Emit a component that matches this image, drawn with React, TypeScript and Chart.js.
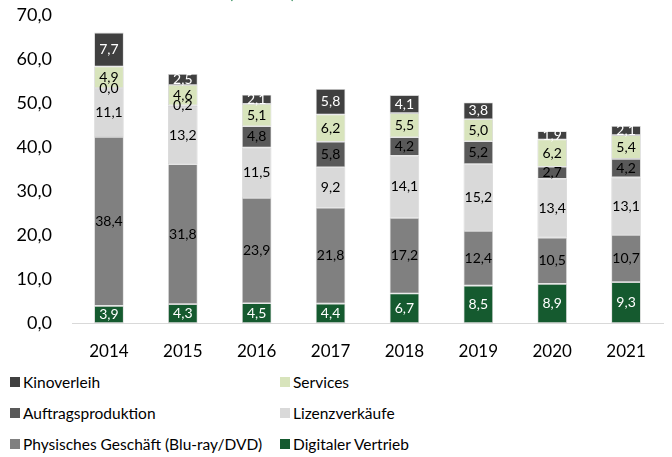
import React, { useEffect, useRef } from "react";
import { Chart, registerables } from "chart.js";

Chart.register(...registerables);

const years = ["2014", "2015", "2016", "2017", "2018", "2019", "2020", "2021"];
const digitalerVertrieb = [3.9, 4.3, 4.5, 4.4, 6.7, 8.5, 8.9, 9.3];
const physischesGeschaeft = [38.4, 31.8, 23.9, 21.8, 17.2, 12.4, 10.5, 10.7];
const lizenzverkaeufe = [11.1, 13.2, 11.5, 9.2, 14.1, 15.2, 13.4, 13.1];
const auftragsproduktion = [0.0, 0.2, 4.8, 5.8, 4.2, 5.2, 2.7, 4.2];
const services = [4.9, 4.6, 5.1, 6.2, 5.5, 5.0, 6.2, 5.4];
const kinoverleih = [7.7, 2.5, 2.1, 5.8, 4.1, 3.8, 1.9, 2.1];
const yTicks = [0, 10, 20, 30, 40, 50, 60, 70];
const titleText = "(in Mio. €)";

const FONT = "Lato, 'Open Sans', sans-serif";

const seriesDefs = [
  { label: "Digitaler Vertrieb", data: digitalerVertrieb, color: "#155a2f", text: "#ffffff" },
  { label: "Physisches Geschäft (Blu-ray/DVD)", data: physischesGeschaeft, color: "#808080", text: "#000000" },
  { label: "Lizenzverkäufe", data: lizenzverkaeufe, color: "#d9d9d9", text: "#000000" },
  { label: "Auftragsproduktion", data: auftragsproduktion, color: "#595959", text: "#000000" },
  { label: "Services", data: services, color: "#d8e4bc", text: "#000000" },
  { label: "Kinoverleih", data: kinoverleih, color: "#404040", text: "#ffffff" },
];

const legendOrder = [
  "Kinoverleih",
  "Services",
  "Auftragsproduktion",
  "Lizenzverkäufe",
  "Physisches Geschäft (Blu-ray/DVD)",
  "Digitaler Vertrieb",
];

const fmt = (v: number) => v.toFixed(1).replace(".", ",");

const labelPlugin = {
  id: "segLabels",
  afterDatasetsDraw(chart: any) {
    const ctx = chart.ctx;
    ctx.save();
    ctx.font = `14px ${FONT}`;
    ctx.textAlign = "center";
    ctx.textBaseline = "middle";
    chart.data.datasets.forEach((ds: any, i: number) => {
      const meta = chart.getDatasetMeta(i);
      meta.data.forEach((el: any, j: number) => {
        const v = ds.data[j];
        const cy = (el.y + el.base) / 2;
        ctx.fillStyle = seriesDefs[i].text;
        ctx.fillText(fmt(v), el.x, cy);
      });
    });
    ctx.restore();
  },
};

const titlePlugin = {
  id: "cutTitle",
  afterDraw(chart: any) {
    const ctx = chart.ctx;
    ctx.save();
    ctx.font = `15px ${FONT}`;
    ctx.textAlign = "center";
    ctx.textBaseline = "alphabetic";
    ctx.fillStyle = "#2e8b57";
    ctx.fillText(titleText, 262, -1);
    ctx.restore();
  },
};

export default function App() {
  const ref = useRef<HTMLCanvasElement | null>(null);

  useEffect(() => {
    document.body.style.margin = "0";
    const canvas = ref.current;
    if (!canvas) return;
    const chart = new Chart(canvas, {
      type: "bar",
      data: {
        labels: years,
        datasets: seriesDefs.map((s) => ({
          label: s.label,
          data: s.data,
          backgroundColor: s.color,
          borderColor: "#d4d4d4",
          borderWidth: 0.8,
          borderSkipped: false,
          barPercentage: 0.4,
          categoryPercentage: 1,
        })),
      },
      options: {
        animation: false,
        responsive: false,
        maintainAspectRatio: false,
        layout: { padding: { top: 15, right: 9, left: 0, bottom: 0 } },
        plugins: {
          legend: { display: false },
          tooltip: { enabled: false },
          title: { display: false },
        },
        scales: {
          x: {
            stacked: true,
            grid: { display: false, drawTicks: false },
            border: { display: true, color: "#d9d9d9", width: 1 },
            ticks: { color: "#000", font: { family: FONT, size: 17 }, padding: 18 },
            afterFit(scale: any) {
              scale.height = 42;
              scale.paddingLeft = 0;
              scale.paddingRight = 0;
            },
          },
          y: {
            stacked: true,
            min: 0,
            max: 70,
            afterBuildTicks(scale: any) {
              scale.ticks = yTicks.map((v) => ({ value: v }));
            },
            grid: { display: false, drawTicks: false },
            border: { display: false },
            ticks: {
              color: "#000",
              font: { family: FONT, size: 18 },
              padding: 20,
              callback: (v: any) => fmt(Number(v)),
            },
            afterFit(scale: any) {
              scale.width = 72;
              scale.paddingTop = 0;
              scale.paddingBottom = 0;
            },
          },
        },
      },
      plugins: [labelPlugin, titlePlugin],
    });
    return () => chart.destroy();
  }, []);

  const colorOf = (name: string) => seriesDefs.find((s) => s.label === name)!.color;

  return (
    <div style={{ position: "relative", width: 672, height: 457, background: "#fff", overflow: "hidden" }}>
      <canvas ref={ref} width={672} height={365} style={{ position: "absolute", left: 0, top: 0 }} />
      {legendOrder.map((name, i) => {
        const col = i % 2;
        const row = Math.floor(i / 2);
        return (
          <div
            key={name}
            style={{
              position: "absolute",
              left: col === 0 ? 10 : 280,
              top: 372 + row * 31,
              height: 20,
              display: "flex",
              alignItems: "center",
              fontFamily: FONT,
              fontSize: 15.5,
              color: "#000",
              whiteSpace: "nowrap",
            }}
          >
            <span
              style={{
                display: "inline-block",
                width: 10,
                height: 10,
                background: colorOf(name),
                marginRight: 3,
              }}
            />
            <span>{name}</span>
          </div>
        );
      })}
    </div>
  );
}
